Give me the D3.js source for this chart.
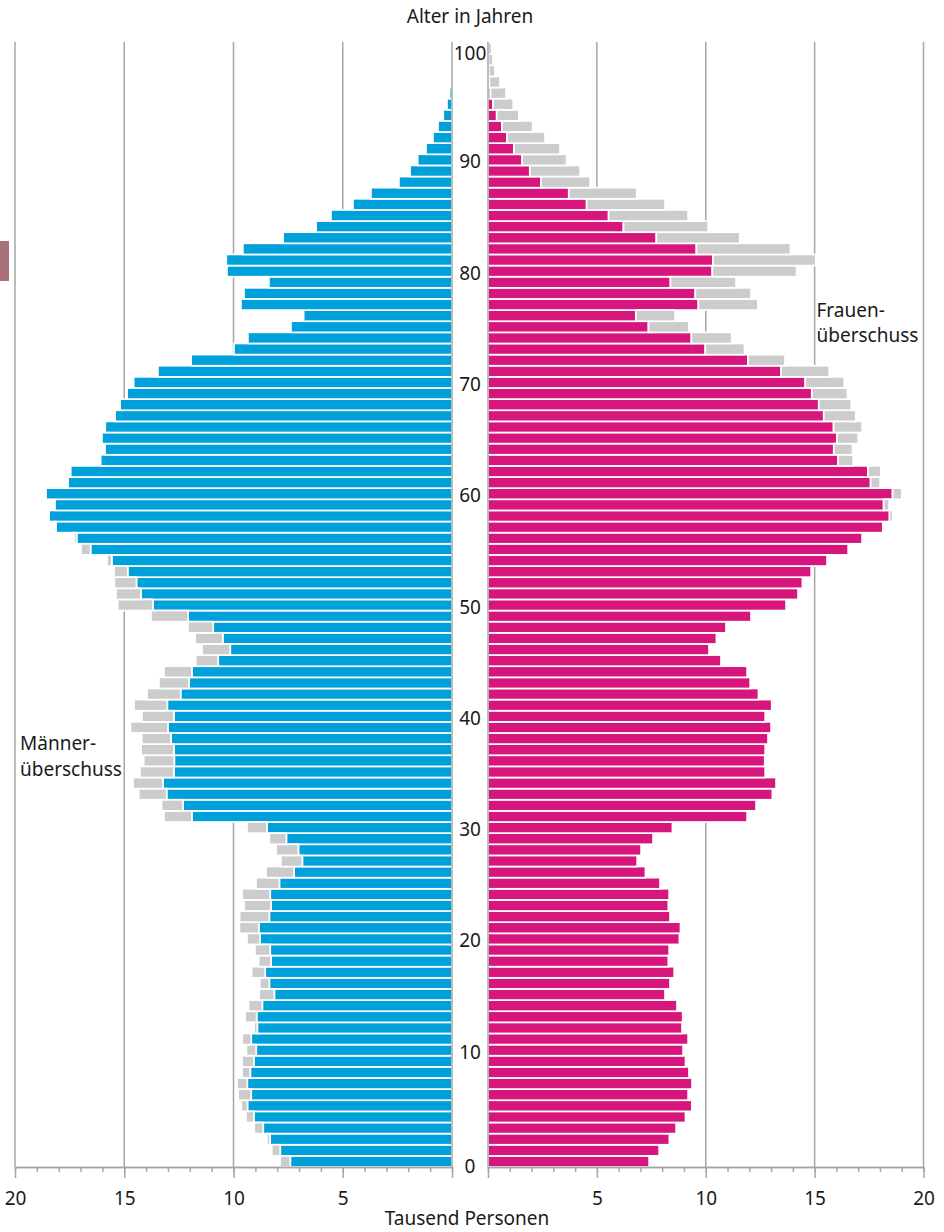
<!DOCTYPE html>
<html>
<head>
<meta charset="utf-8">
<script src="https://cdn.jsdelivr.net/npm/d3@7"></script>
<style>
  body { margin: 0; background: #fff; }
  svg { display: block; font-family: "Noto Sans", "Open Sans", sans-serif; }
</style>
</head>
<body>
<svg id="viz" width="944" height="1232"></svg>
<script>
// Bevölkerungspyramide: Männer links, Frauen rechts, Überschuss grau

const ages = d3.range(0, 101);

// Tausend Personen je Altersjahr 0..100
const males = [
  7.87, 8.25, 8.47, 9.05, 9.43, 9.64, 9.79, 9.84, 9.61, 9.61,
  9.41, 9.60, 9.06, 9.47, 9.31, 8.83, 8.80, 9.17, 8.85, 9.02,
  9.38, 9.73, 9.72, 9.52, 9.61, 8.97, 8.51, 7.83, 8.05, 8.36,
  9.38, 13.18, 13.29, 14.34, 14.60, 14.28, 14.11, 14.23, 14.20, 14.72,
  14.19, 14.55, 13.96, 13.41, 13.18, 11.73, 11.44, 11.76, 12.08, 13.78,
  15.30, 15.38, 15.45, 15.47, 15.79, 16.98, 17.30, 18.20, 18.44, 18.17,
  18.58, 17.57, 17.45, 16.08, 15.88, 16.02, 15.87, 15.42, 15.19, 14.87,
  14.57, 13.46, 11.94, 9.98, 9.34, 7.37, 6.79, 9.66, 9.52, 8.38,
  10.30, 10.33, 9.57, 7.73, 6.22, 5.54, 4.53, 3.71, 2.43, 1.92,
  1.57, 1.19, 0.87, 0.64, 0.40, 0.23, 0.11, 0.06, 0.04, 0.02,
  0.01
];
const females = [
  7.40, 7.86, 8.33, 8.64, 9.07, 9.36, 9.19, 9.37, 9.23, 9.07,
  8.96, 9.19, 8.91, 8.94, 8.68, 8.13, 8.36, 8.55, 8.28, 8.32,
  8.79, 8.84, 8.36, 8.28, 8.32, 7.90, 7.23, 6.85, 7.03, 7.58,
  8.47, 11.90, 12.31, 13.06, 13.23, 12.73, 12.71, 12.73, 12.86, 13.00,
  12.73, 13.03, 12.42, 12.04, 11.90, 10.70, 10.15, 10.49, 10.93, 12.08,
  13.69, 14.24, 14.44, 14.84, 15.57, 16.54, 17.18, 18.13, 18.59, 18.42,
  19.00, 18.01, 18.04, 16.77, 16.74, 17.00, 17.18, 16.89, 16.68, 16.51,
  16.36, 15.67, 13.64, 11.78, 11.19, 9.22, 8.59, 12.39, 12.08, 11.39,
  14.17, 15.05, 13.89, 11.56, 10.11, 9.19, 8.13, 6.83, 4.69, 4.23,
  3.61, 3.31, 2.62, 2.05, 1.42, 1.16, 0.83, 0.55, 0.32, 0.23,
  0.17
];

const xTicks = [0, 5, 10, 15, 20];
const ageTicks = d3.range(0, 101, 10);

const colors = { male: "#00a1da", female: "#d6157d", surplus: "#cbcccb", grid: "#a6a6a6", text: "#1a1a1a" };
const fontSize = 19;

const svg = d3.select("#viz");
const axisY = 1167;

const xL = d3.scaleLinear().domain([0, 20]).range([452, 15]);
const xR = d3.scaleLinear().domain([0, 20]).range([488, 923.5]);
const y = d3.scaleBand().domain(ages.slice().reverse()).range([43, axisY]).padding(0);
const bw = y.bandwidth();

const rows = ages.map((a, i) => ({ age: a, m: males[i], f: females[i] }));

// small marker at the left edge
svg.append("rect").attr("x", 0).attr("y", 241).attr("width", 9).attr("height", 40).attr("fill", "#a87079");

// vertical gridlines
const grid = svg.append("g");
[xL, xR].forEach(sc => {
  grid.selectAll(null).data(xTicks.slice(1)).join("line")
    .attr("x1", d => sc(d)).attr("x2", d => sc(d))
    .attr("y1", 42).attr("y2", axisY)
    .attr("stroke", colors.grid).attr("stroke-width", 1.5);
});

// bars
const bars = svg.append("g").attr("stroke", "#fff").attr("stroke-width", 1.7);

// male side: blue = min(m,f), grey = surplus of men
bars.selectAll(".mb").data(rows).join("rect").attr("class", "mb")
  .attr("x", d => xL(Math.min(d.m, d.f)))
  .attr("y", d => y(d.age))
  .attr("width", d => xL(0) - xL(Math.min(d.m, d.f)))
  .attr("height", bw)
  .attr("fill", colors.male);
bars.selectAll(".ms").data(rows.filter(d => d.m > d.f)).join("rect").attr("class", "ms")
  .attr("x", d => xL(d.m))
  .attr("y", d => y(d.age))
  .attr("width", d => xL(d.f) - xL(d.m))
  .attr("height", bw)
  .attr("fill", colors.surplus);

// female side
bars.selectAll(".fb").data(rows).join("rect").attr("class", "fb")
  .attr("x", xR(0))
  .attr("y", d => y(d.age))
  .attr("width", d => xR(Math.min(d.m, d.f)) - xR(0))
  .attr("height", bw)
  .attr("fill", colors.female);
bars.selectAll(".fs").data(rows.filter(d => d.f > d.m)).join("rect").attr("class", "fs")
  .attr("x", d => xR(d.m))
  .attr("y", d => y(d.age))
  .attr("width", d => xR(d.f) - xR(d.m))
  .attr("height", bw)
  .attr("fill", colors.surplus);

// zero lines
[xL(0), xR(0)].forEach(x0 => {
  svg.append("line").attr("x1", x0).attr("x2", x0).attr("y1", 42).attr("y2", axisY)
    .attr("stroke", colors.grid).attr("stroke-width", 1.5);
});

// bottom axes: minor ticks every 1, major every 5
function drawAxis(sc) {
  const minor = svg.append("g").attr("transform", `translate(0,${axisY})`)
    .call(d3.axisBottom(sc).tickValues(d3.range(0, 21)).tickSize(5).tickSizeOuter(0).tickFormat(""));
  const major = svg.append("g").attr("transform", `translate(0,${axisY})`)
    .call(d3.axisBottom(sc).tickValues(xTicks).tickSize(11).tickSizeOuter(0).tickPadding(14));
  [minor, major].forEach(g => {
    g.selectAll("path, line").attr("stroke", colors.grid).attr("stroke-width", 1.5);
  });
  major.selectAll("text")
    .attr("font-size", fontSize).attr("fill", colors.text)
    .attr("font-family", "'Noto Sans', 'Open Sans', sans-serif")
    .text(d => d === 0 ? "" : d);
}
drawAxis(xL);
drawAxis(xR);

// age labels in the middle
svg.append("g").selectAll("text").data(ageTicks).join("text")
  .attr("x", (xL(0) + xR(0)) / 2)
  .attr("y", d => y(d) + bw / 2 + (d === 0 || d === 100 ? 4.5 : 1.5))
  .attr("text-anchor", "middle")
  .attr("dominant-baseline", "central")
  .attr("font-size", fontSize)
  .attr("fill", colors.text)
  .text(d => d);

// titles
svg.append("text").attr("x", 470).attr("y", 22.5).attr("text-anchor", "middle")
  .attr("font-size", fontSize).attr("fill", colors.text).text("Alter in Jahren");
svg.append("text").attr("x", 467).attr("y", 1225).attr("text-anchor", "middle")
  .attr("font-size", fontSize).attr("fill", colors.text).text("Tausend Personen");

// annotations
const ann = [
  { x: 20, y: 750, lines: ["Männer-", "überschuss"] },
  { x: 816.5, y: 316.5, lines: ["Frauen-", "überschuss"] }
];
ann.forEach(a => {
  const t = svg.append("text").attr("x", a.x).attr("y", a.y)
    .attr("font-size", fontSize).attr("fill", colors.text);
  a.lines.forEach((l, i) => {
    t.append("tspan").attr("x", a.x).attr("dy", i === 0 ? 0 : 25.5).text(l);
  });
});
</script>
</body>
</html>
